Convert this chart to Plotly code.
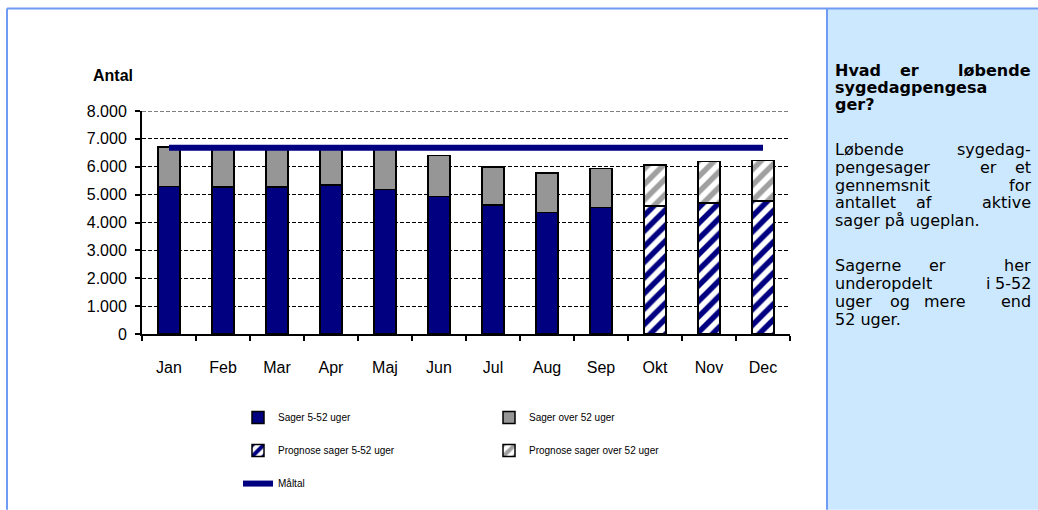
import plotly.graph_objects as go

months = ["Jan", "Feb", "Mar", "Apr", "Maj", "Jun", "Jul", "Aug", "Sep", "Okt", "Nov", "Dec"]
total_cases = [6716, 6640, 6650, 6700, 6620, 6410, 5990, 5770, 5940, 6060, 6180, 6230]
cases_5_52 = [5290, 5280, 5280, 5350, 5180, 4930, 4630, 4350, 4540, 4590, 4700, 4770]
n_actual = 9  # Jan..Sep actual, Okt..Dec prognosis
target = [6680] * 12
y_ticks = [0, 1000, 2000, 3000, 4000, 5000, 6000, 7000, 8000]

over_52 = [t - s for t, s in zip(total_cases, cases_5_52)]
act_5_52 = [v if i < n_actual else None for i, v in enumerate(cases_5_52)]
act_over = [v if i < n_actual else None for i, v in enumerate(over_52)]
prog_5_52 = [v if i >= n_actual else None for i, v in enumerate(cases_5_52)]
prog_over = [v if i >= n_actual else None for i, v in enumerate(over_52)]

NAVY = "#000080"
GRAY = "#969696"

# page geometry (pixels); body margin removed by post_script
WIDTH, HEIGHT = 1038, 510
L, R, T, B = 142, 790, 111, 337
PW, PH = R - L, B - T


def px(x):
    return (x - L) / PW


def py(y):
    return (B - y) / PH


fig = go.Figure()
outline = dict(color="black", width=1.5)
fig.add_trace(go.Bar(x=months, y=act_5_52, name="Sager 5-52 uger",
                     marker=dict(color=NAVY, line=outline),
                     legend="legend", legendgroup="a"))
fig.add_trace(go.Bar(x=months, y=act_over, name="Sager over 52 uger",
                     marker=dict(color=GRAY, line=outline),
                     legend="legend2", legendgroup="b"))
fig.add_trace(go.Bar(x=months, y=prog_5_52, name="Prognose sager 5-52 uger",
                     marker=dict(color="white", line=outline,
                                 pattern=dict(shape="/", fgcolor=NAVY, bgcolor="white",
                                              fgopacity=1, size=11, solidity=0.5)),
                     legend="legend", legendgroup="c"))
fig.add_trace(go.Bar(x=months, y=prog_over, name="Prognose sager over 52 uger",
                     marker=dict(color="white", line=outline,
                                 pattern=dict(shape="/", fgcolor="#A0A0A0", bgcolor="white",
                                              fgopacity=1, size=11, solidity=0.5)),
                     legend="legend2", legendgroup="d"))
fig.add_trace(go.Scatter(x=months, y=target, name="Måltal", mode="lines",
                         line=dict(color=NAVY, width=6),
                         legend="legend", legendgroup="e"))

tickfont = dict(family="Liberation Sans, Arial, sans-serif", size=16, color="black")
legfont = dict(family="Liberation Sans, Arial, sans-serif", size=10, color="black")
FRAME = "#6F9CF2"

shapes = [
    # right info panel
    dict(type="rect", xref="paper", yref="paper", x0=px(827), x1=px(1045), y0=py(7), y1=py(515),
         fillcolor="#CCE8FE", line=dict(width=0), layer="below"),
    # frame lines
    dict(type="line", xref="paper", yref="paper", x0=px(7), x1=px(1045), y0=py(7), y1=py(7),
         line=dict(color=FRAME, width=2)),
    dict(type="line", xref="paper", yref="paper", x0=px(7), x1=px(7), y0=py(7), y1=py(515),
         line=dict(color=FRAME, width=2)),
    dict(type="line", xref="paper", yref="paper", x0=px(827), x1=px(827), y0=py(7), y1=py(515),
         line=dict(color=FRAME, width=2)),
    # top gridline at the top of the value axis
    dict(type="line", xref="paper", yref="y", x0=0, x1=1, y0=y_ticks[-1], y1=y_ticks[-1],
         line=dict(color="black", width=1, dash="4px,2px"), layer="below"),
]

annotations = [
    dict(text="<b>Antal</b>", xref="paper", yref="paper", x=px(113), y=py(75),
         xanchor="center", yanchor="middle", showarrow=False,
         font=dict(family="Liberation Sans, Arial, sans-serif", size=16, color="black")),
]

panel_font = "DejaVu Sans, Verdana, sans-serif"
# each line: (y, bold, [(word, x, anchor), ...])
panel_lines = [
    (70, True, [("Hvad", 833, "left"), ("er", 909, "center"), ("løbende", 1033, "right")]),
    (87, True, [("sygedagpengesa", 833, "left")]),
    (104, True, [("ger?", 833, "left")]),
    (150, False, [("Løbende", 833, "left"), ("sygedag-", 1033, "right")]),
    (168, False, [("pengesager", 833, "left"), ("er", 988, "center"), ("et", 1033, "right")]),
    (186, False, [("gennemsnit", 833, "left"), ("for", 1033, "right")]),
    (204, False, [("antallet", 833, "left"), ("af", 924, "center"), ("aktive", 1033, "right")]),
    (222, False, [("sager på ugeplan.", 833, "left")]),
    (268, False, [("Sagerne", 833, "left"), ("er", 938, "center"), ("her", 1033, "right")]),
    (286, False, [("underopdelt", 833, "left"), ("i", 988, "center"), ("5-52", 1033, "right")]),
    (304, False, [("uger", 833, "left"), ("og", 900, "center"), ("mere", 945, "center"), ("end", 1033, "right")]),
    (322, False, [("52 uger.", 833, "left")]),
]
for y, bold, words in panel_lines:
    for w, x, anc in words:
        annotations.append(dict(
            text=f"<b>{w}</b>" if bold else w, xref="paper", yref="paper",
            x=px(x), y=py(y), xanchor=anc, yanchor="middle", showarrow=False,
            font=dict(family=panel_font, size=16, color="black")))

fig.update_layout(
    width=WIDTH, height=HEIGHT,
    margin=dict(l=L, r=WIDTH - R, t=T, b=HEIGHT - B, pad=0),
    paper_bgcolor="white", plot_bgcolor="white",
    barmode="stack", bargap=0.59,
    separators=",.",
    showlegend=True,
    legend=dict(x=px(238), y=py(407), xanchor="left", yanchor="top",
                orientation="v", font=legfont, bgcolor="rgba(0,0,0,0)",
                tracegroupgap=14, itemwidth=30),
    legend2=dict(x=px(489), y=py(407), xanchor="left", yanchor="top",
                 orientation="v", font=legfont, bgcolor="rgba(0,0,0,0)",
                 tracegroupgap=14, itemwidth=30),
    xaxis=dict(type="category", showline=True, linecolor="black", linewidth=1.5,
               ticks="outside", tickson="boundaries", ticklen=5, tickcolor="black",
               tickwidth=1.5, tickfont=tickfont, showgrid=False, ticklabelstandoff=18),
    yaxis=dict(range=[0, 8000], tickvals=y_ticks,
               tickformat=",d", showline=True, linecolor="black", linewidth=2,
               ticks="outside", ticklen=5, tickcolor="black", tickwidth=1.5,
               tickfont=tickfont, showgrid=True, gridcolor="black", gridwidth=1,
               griddash="4px,2px", zeroline=False, ticklabelstandoff=5),
    shapes=shapes,
    annotations=annotations,
)

fig.write_html(
    "out.html",
    config={"displayModeBar": False},
    post_script="document.body.style.margin='0';document.body.style.overflow='hidden';",
)
